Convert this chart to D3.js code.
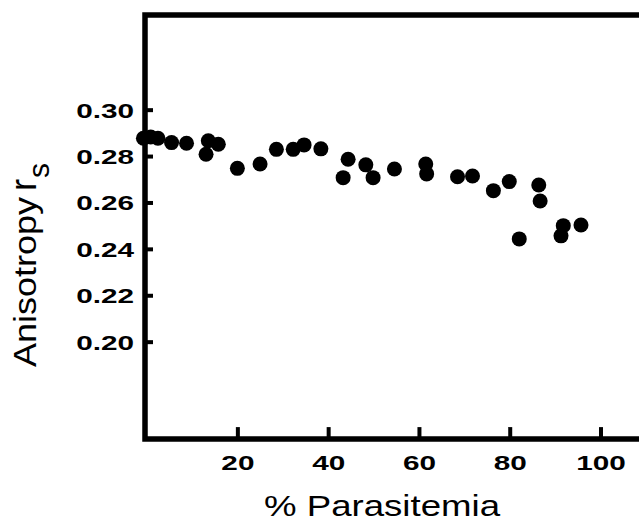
<!DOCTYPE html>
<html>
<head>
<meta charset="utf-8">
<script src="https://cdn.jsdelivr.net/npm/d3@7"></script>
<style>
  html, body { margin: 0; padding: 0; background: #fff; }
  svg { display: block; }
  text { font-family: "Liberation Sans", Arial, Helvetica, sans-serif; fill: #000; }
</style>
</head>
<body>
<script>
// ---- data ----
const parasitemia = [-0.7, 0.9, 2.5, 5.5, 8.8, 13.6, 15.8, 13.1, 20.0, 25.0, 28.6, 32.3, 34.7, 38.4,
  44.4, 43.3, 48.3, 49.9, 54.6, 61.5, 61.7, 68.5, 71.8, 76.4, 79.9, 86.4, 86.7, 82.1, 91.8, 91.3, 95.7];
const anisotropy = [0.2877, 0.2882, 0.2877, 0.2858, 0.2855, 0.2866, 0.2851, 0.2808, 0.2747, 0.2766, 0.2829, 0.2829, 0.2848, 0.2831,
  0.2786, 0.2707, 0.2762, 0.2707, 0.2744, 0.2766, 0.2723, 0.2711, 0.2714, 0.2651, 0.2690, 0.2675, 0.2606, 0.2443, 0.2500, 0.2456, 0.2503];
const xTicks = [20, 40, 60, 80, 100];
const yTicks = [0.30, 0.28, 0.26, 0.24, 0.22, 0.20];
const xTitle = "% Parasitemia";
const yTitle = "Anisotropy";

const W = 639, H = 522;
const svg = d3.select("body").append("svg").attr("width", W).attr("height", H);

const x = d3.scaleLinear().domain([-0.35, 110]).range([145, 645.9]);
const y = d3.scaleLinear().domain([0.158, 0.3408]).range([439.1, 15]);

// points
svg.append("g").selectAll("circle")
  .data(parasitemia.map((v, i) => [v, anisotropy[i]]))
  .join("circle")
  .attr("cx", d => x(d[0]))
  .attr("cy", d => y(d[1]))
  .attr("r", 7.5)
  .attr("fill", "#000");

// frame
const [x0, x1] = x.range();
const [yb, yt] = y.range();
svg.append("path")
  .attr("d", `M${x1},${yt} L${x0},${yt} L${x0},${yb} L${x1},${yb}`)
  .attr("fill", "none").attr("stroke", "#000").attr("stroke-width", 5.5)
  .attr("stroke-linejoin", "miter");

// wide-font helper: stretch glyphs horizontally
function stretch(sel, factor) {
  sel.each(function () {
    const len = this.getComputedTextLength();
    d3.select(this).attr("textLength", len * factor).attr("lengthAdjust", "spacingAndGlyphs");
  });
}

// x axis ticks and labels
const xAxis = d3.axisBottom(x).tickValues(xTicks).tickSize(-12).tickPadding(0).tickFormat(d3.format("d"));
const gx = svg.append("g").attr("transform", `translate(0,${yb})`).call(xAxis);
gx.select(".domain").remove();
gx.selectAll(".tick line").attr("stroke", "#000").attr("stroke-width", 4);
gx.selectAll(".tick text").attr("y", 31).attr("dy", 0)
  .style("font-size", "20.5px").style("font-weight", "bold").attr("fill", "#000")
  .call(stretch, 1.45);

// y axis ticks and labels
const yAxis = d3.axisLeft(y).tickValues(yTicks).tickSize(-8).tickPadding(0).tickFormat(d3.format(".2f"));
const gy = svg.append("g").attr("transform", `translate(${x0},0)`).call(yAxis);
gy.select(".domain").remove();
gy.selectAll(".tick line").attr("stroke", "#000").attr("stroke-width", 4);
gy.selectAll(".tick text").attr("x", -11).attr("dy", "0.36em")
  .style("font-size", "20.5px").style("font-weight", "bold").attr("fill", "#000")
  .call(stretch, 1.45);

// axis titles
svg.append("text")
  .attr("x", 382).attr("y", 516)
  .attr("text-anchor", "middle")
  .style("font-size", "29px")
  .attr("textLength", 236).attr("lengthAdjust", "spacingAndGlyphs")
  .text(xTitle);

const yt2 = svg.append("text")
  .attr("transform", "translate(36,367) rotate(-90)")
  .attr("text-anchor", "start")
  .style("font-size", "32px");
yt2.append("tspan").attr("textLength", 170).attr("lengthAdjust", "spacingAndGlyphs").text(yTitle);
yt2.append("tspan").attr("dx", 6).style("font-size", "36px").text("r");
yt2.append("tspan").attr("dy", 13).attr("dx", 1).style("font-size", "30px").text("s");
</script>
</body>
</html>
